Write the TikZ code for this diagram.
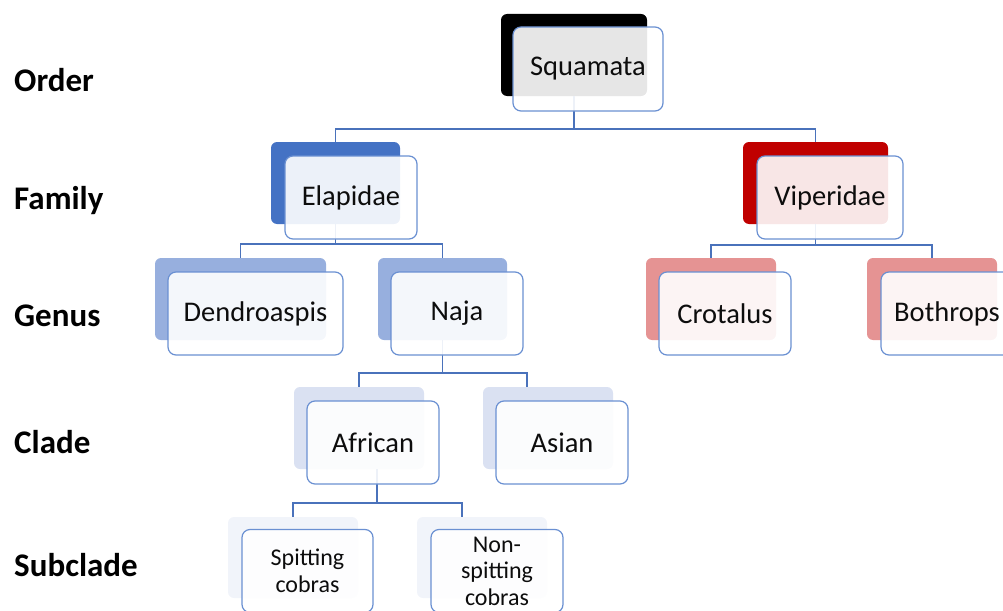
\documentclass[tikz,border=0pt]{standalone}
\usepackage{fontspec}
\setmainfont{Carlito}
\usepackage{xcolor}
\usetikzlibrary{positioning}
\definecolor{taxblue}{HTML}{4472C4}
\definecolor{taxred}{HTML}{C00000}
\definecolor{taxsoftblue}{HTML}{97AFDE}
\definecolor{taxsoftred}{HTML}{E59393}
\definecolor{taxpaleblue}{HTML}{DAE1F2}
\definecolor{taxfaintblue}{HTML}{F1F4FA}
\definecolor{taxedge}{HTML}{6A90D2}
\definecolor{taxlink}{HTML}{4A72BB}

\begin{document}
\begin{tikzpicture}[
  x=1pt,y=-1pt,
  back/.style={rounded corners=6pt,inner sep=0pt,minimum width=130pt,minimum height=82pt},
  front/.style={draw=taxedge,line width=1.2pt,fill=white,fill opacity=0.9,text opacity=1,
    rounded corners=8pt,inner sep=0pt,minimum width=132pt,minimum height=83pt,
    align=center,font=\fontsize{28.5}{34}\selectfont,text=black!95},
  small/.style={font=\fontsize{24}{26.5}\selectfont},
  rank/.style={anchor=base west,inner sep=0pt,font=\fontsize{33}{40}\selectfont\bfseries},
  link/.style={draw=taxlink,line width=1.5pt}
]
\clip (0,0) rectangle (1003,610);

% rank labels
\node[rank] (rorder) at (14,92) {Order};
\node[rank] (rfamily) at (14,209) {Family};
\node[rank] (rgenus) at (14,326) {Genus};
\node[rank] (rclade) at (14,453) {Clade};
\node[rank] (rsub) at (14,576) {Subclade};

% back shapes
\node[back,fill=black,minimum width=146pt] (sq) at (574,55) {};
\node[back,fill=taxblue,minimum width=129pt] (ela) at (335.5,183) {};
\node[back,fill=taxred,minimum width=145pt] (vip) at (815.5,183) {};
\node[back,fill=taxsoftblue,minimum width=171pt] (den) at (240.5,299) {};
\node[back,fill=taxsoftblue,minimum width=129pt] (naja) at (442.5,299) {};
\node[back,fill=taxsoftred] (cro) at (711,299) {};
\node[back,fill=taxsoftred] (bot) at (932,299) {};
\node[back,fill=taxpaleblue] (afr) at (359,428) {};
\node[back,fill=taxpaleblue] (asi) at (548,428) {};
\node[back,fill=taxfaintblue,minimum height=81pt] (spit) at (293,557.5) {};
\node[back,fill=taxfaintblue,minimum height=81pt] (nspit) at (482,557.5) {};

% connectors
\coordinate (j1) at (574,129);
\coordinate (j2) at (335.5,244);
\coordinate (j3) at (815.5,245);
\coordinate (j4) at (442.5,373);
\coordinate (j5) at (377,503);
\draw[link] (sq.south) -- (j1);
\draw[link] (j1) -| (ela.north);
\draw[link] (j1) -| (vip.north);
\draw[link] (ela.south) -- (j2);
\draw[link] (j2) -| (den.north);
\draw[link] (j2) -| (naja.north);
\draw[link] (vip.south) -- (j3);
\draw[link] (j3) -| (cro.north);
\draw[link] (j3) -| (bot.north);
\draw[link] (naja.south) -- (j4);
\draw[link] (j4) -| (afr.north);
\draw[link] (j4) -| ([xshift=-21pt]asi.north);
\draw[link] ([xshift=18pt]afr.south) -- (j5);
\draw[link] (j5) -| (spit.north);
\draw[link] (j5) -| ([xshift=-20pt]nspit.north);

% front shapes
\node[front,minimum width=150pt,minimum height=84pt] (sqf) at (588,69) {Squamata};
\node[front] (elaf) at (351,197.5) {Elapidae};
\node[front,minimum width=146pt] (vipf) at (830,197.5) {Viperidae};
\node[front,minimum width=175pt] (denf) at (255.5,313.5) {Dendroaspis};
\node[front] (najaf) at (457,313.5) {Naja};
\node[front] (crof) at (725,313.5) {Crotalus};
\node[front] (botf) at (947,313.5) {Bothrops};
\node[front] (afrf) at (373,442.5) {African};
\node[front] (asif) at (562,442.5) {Asian};
\node[front,small,minimum width=131pt] (spitf) at (307.5,571) {Spitting\\cobras};
\node[front,small] (nspitf) at (497,571) {Non-\\spitting\\cobras};
\end{tikzpicture}
\end{document}
